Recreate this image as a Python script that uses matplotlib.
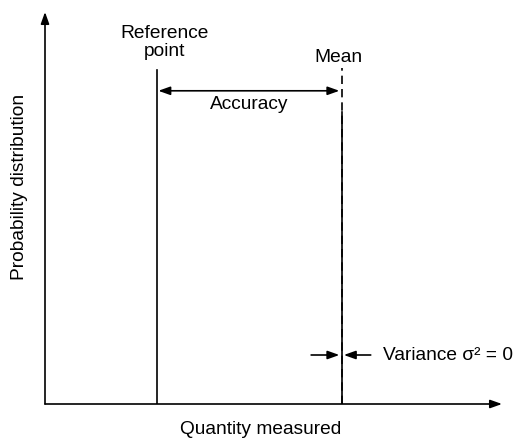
import matplotlib.pyplot as plt

plt.rcParams['font.family'] = ['Liberation Sans', 'DejaVu Sans']

# conceptual positions in "quantity" units (axis runs 0..10 both ways)
reference_point = 2.5
mean_value = 6.62
variance = 0
x_max, y_max = 10.2, 10.0

ref_top = 8.52          # height of reference line
mean_top = 8.57         # dashed mean line top
mean_solid_top = 7.45   # solid part of the mean line
accuracy_y = 7.99
variance_y = 1.25

fig = plt.figure(figsize=(5.22, 4.42), dpi=100)
ax = fig.add_axes([45 / 522, 38 / 442, 457 / 522, 392 / 442])
ax.set_xlim(0, x_max)
ax.set_ylim(0, y_max)
ax.axis('off')

arrow_kw = dict(arrowstyle='-|>,head_length=0.7,head_width=0.25', color='black', lw=1.2,
                shrinkA=0, shrinkB=0)

# axes with arrow heads
ax.annotate('', xy=(x_max, 0), xytext=(0, 0), arrowprops=arrow_kw, annotation_clip=False)
ax.annotate('', xy=(0, y_max), xytext=(0, 0), arrowprops=arrow_kw, annotation_clip=False)

# reference line and mean line
ax.plot([reference_point, reference_point], [0, ref_top], color='black', lw=1.2)
ax.plot([mean_value, mean_value], [0, mean_solid_top], color='black', lw=1.2)
ax.plot([mean_value, mean_value], [0, mean_top], color='black', lw=1.2, dashes=(5, 3))

# accuracy double arrow
ax.annotate('', xy=(reference_point + 0.03, accuracy_y), xytext=(mean_value - 0.05, accuracy_y),
            arrowprops=dict(arrowstyle='<|-|>,head_length=0.7,head_width=0.25', color='black',
                            lw=1.2, shrinkA=0, shrinkB=0))

# variance arrows pointing at the mean line
ax.annotate('', xy=(mean_value - 0.05, variance_y), xytext=(mean_value - 0.68, variance_y),
            arrowprops=arrow_kw)
ax.annotate('', xy=(mean_value + 0.05, variance_y), xytext=(mean_value + 0.65, variance_y),
            arrowprops=arrow_kw)

fs = 13.8
ax.text(2.66, 9.23, 'Reference\npoint', ha='center', va='center', fontsize=fs,
        linespacing=1.1)
ax.text(6.54, 8.85, 'Mean', ha='center', va='center', fontsize=fs)
ax.text(4.55, 7.63, 'Accuracy', ha='center', va='center', fontsize=fs)
ax.text(7.54, variance_y, f'Variance σ² = {variance}', ha='left', va='center',
        fontsize=fs)
fig.text(261 / 522, 1 - 430 / 442, 'Quantity measured', ha='center', va='center', fontsize=fs)
fig.text(20 / 522, 1 - 187 / 442, 'Probability distribution', ha='center', va='center',
         fontsize=fs, rotation=90)

fig.savefig('out.png', dpi=100)
